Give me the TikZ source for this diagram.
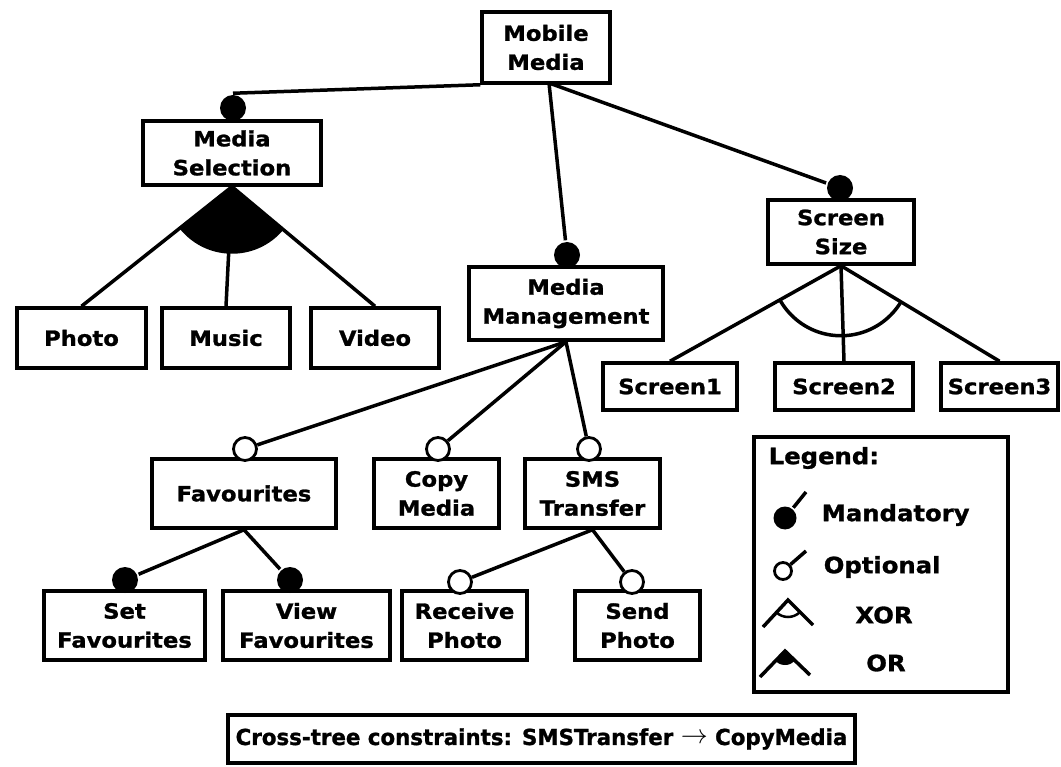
\documentclass[tikz,border=0pt]{standalone}
\usepackage{graphicx}
\usepackage{fontspec}
\setmainfont{DejaVu Sans}[FakeStretch=1.08, BoldFeatures={FakeBold=1.2}]
\newfontfamily\crossfont{DejaVu Sans}[FakeStretch=0.97, BoldFeatures={FakeBold=1.2}]
\usepackage{tikz}

\begin{document}
\begin{tikzpicture}[x=1pt, y=-1pt, line width=3.5pt,
    feat/.style 2 args={draw, minimum width=#1, minimum height=#2, align=center, inner sep=0pt, font=\fontsize{21}{29}\selectfont\bfseries},
    mand/.style={circle, fill=black, inner sep=0pt, minimum size=26pt},
    opt/.style={circle, draw, fill=white, line width=2.8pt, inner sep=0pt, minimum size=23pt},
    legtext/.style={inner sep=0pt, font=\fontsize{22.5}{26}\selectfont\bfseries}]
    \useasboundingbox (0,0) rectangle (1061,767);

    % Features
    \node[feat={128pt}{71pt}] (mobile) at (546,47.5) {Mobile\\Media};
    \node[feat={178pt}{64pt}] (msel) at (232,153) {Media\\Selection};
    \node[feat={194pt}{73pt}] (mmgmt) at (566,303.5) {Media\\Management};
    \node[feat={146pt}{64pt}] (ssize) at (841,232) {Screen\\Size};

    \node[feat={129pt}{60pt}] (photo) at (81.5,338) {Photo};
    \node[feat={128pt}{60pt}] (music) at (226,338) {Music};
    \node[feat={128pt}{60pt}] (video) at (375,338) {Video};

    \node[feat={134pt}{47pt}] (screen1) at (670,386.5) {Screen1};
    \node[feat={138pt}{47pt}] (screen2) at (844,386.5) {Screen2};
    \node[feat={117pt}{47pt}] (screen3) at (999.5,386.5) {Screen3};

    \node[feat={184pt}{69pt}] (fav) at (244,493.5) {Favourites};
    \node[feat={125pt}{69pt}] (copy) at (436.5,493.5) {Copy\\Media};
    \node[feat={135pt}{69pt}] (sms) at (592.5,493.5) {SMS\\Transfer};

    \node[feat={161pt}{69pt}] (setfav) at (124.5,625.5) {Set\\Favourites};
    \node[feat={167pt}{69pt}] (viewfav) at (306.5,625.5) {View\\Favourites};
    \node[feat={125pt}{69pt}] (recv) at (464.5,625.5) {Receive\\Photo};
    \node[feat={125pt}{69pt}] (send) at (637.5,625.5) {Send\\Photo};

    % Mandatory and optional ends
    \node[mand] (c-msel) at (233,108) {};
    \node[mand] (c-mmgmt) at (567,255) {};
    \node[mand] (c-ssize) at (840,188) {};
    \node[opt] (c-fav) at (245,449) {};
    \node[opt] (c-copy) at (438,449) {};
    \node[opt] (c-sms) at (589,449) {};
    \node[mand] (c-setfav) at (125,580) {};
    \node[mand] (c-viewfav) at (290,580) {};
    \node[opt] (c-recv) at (460,582) {};
    \node[opt] (c-send) at (632,582) {};

    \coordinate (mobile-foot) at (549,83);
    \draw (mobile.south west) -- (c-msel.north);
    \draw (mobile-foot) -- (c-mmgmt);
    \draw (mobile-foot) -- (c-ssize);
    \draw (mmgmt.south) -- (c-fav);
    \draw (mmgmt.south) -- (c-copy);
    \draw (mmgmt.south) -- (c-sms);
    \draw (fav.south) -- (c-setfav);
    \draw (fav.south) -- (c-viewfav);
    \draw (sms.south) -- (c-recv);
    \draw (sms.south) -- (c-send);

    % OR group
    \draw (msel.south) -- (photo.north);
    \draw (msel.south) -- (music.north);
    \draw (msel.south) -- (video.north);
    \begin{scope}
        \clip (msel.south) -- (photo.north) -- (video.north) -- cycle;
        \fill (msel.south) circle (67pt);
    \end{scope}

    % XOR group
    \draw (ssize.south) -- (screen1.north);
    \draw (ssize.south) -- (screen2.north);
    \draw (ssize.south) -- (screen3.north);
    \begin{scope}
        \clip (ssize.south) -- (screen1.north) -- (screen3.north) -- cycle;
        \draw (ssize.south) circle (70pt);
    \end{scope}

    % Legend
    \node[draw, minimum width=254pt, minimum height=255pt] (legend) at (881,564.5) {};
    \node[legtext, anchor=west] (t-legend) at (767,458) {Legend:};

    \node[mand, minimum size=23pt] (l-mand) at (785,518) {};
    \coordinate (l-mand-end) at (806,492);
    \draw (l-mand) -- (l-mand-end);
    \node[legtext, anchor=west] (t-mand) at (820,515) {Mandatory};

    \node[opt, minimum size=17pt] (l-opt) at (783,571) {};
    \coordinate (l-opt-end) at (806,551);
    \draw (l-opt) -- (l-opt-end);
    \node[legtext, anchor=west] (t-opt) at (822,567) {Optional};

    \coordinate (l-xor) at (788,600);
    \coordinate (l-xor-a) at (763,627);
    \coordinate (l-xor-b) at (813,625);
    \draw (l-xor-a) -- (l-xor) -- (l-xor-b);
    \begin{scope}
        \clip (l-xor) -- (l-xor-a) -- (l-xor-b) -- cycle;
        \draw[line width=2.5pt] (l-xor) circle (17pt);
    \end{scope}
    \node[legtext] (t-xor) at (884,615) {XOR};

    \coordinate (l-or) at (785,651);
    \coordinate (l-or-a) at (760,677);
    \coordinate (l-or-b) at (810,675);
    \draw (l-or-a) -- (l-or) -- (l-or-b);
    \begin{scope}
        \clip (l-or) -- (l-or-a) -- (l-or-b) -- cycle;
        \fill (l-or) circle (14pt);
    \end{scope}
    \node[legtext] (t-or) at (886,663) {OR};

    % Cross-tree constraints
    \node[draw, minimum width=627pt, minimum height=48pt, inner sep=0pt,
        font=\fontsize{22}{26}\selectfont\crossfont\bfseries] (cross) at (541.5,739)
        {Cross-tree constraints: SMSTransfer \raisebox{1pt}{\scalebox{1.3}{$\rightarrow$}} CopyMedia};
\end{tikzpicture}
\end{document}
